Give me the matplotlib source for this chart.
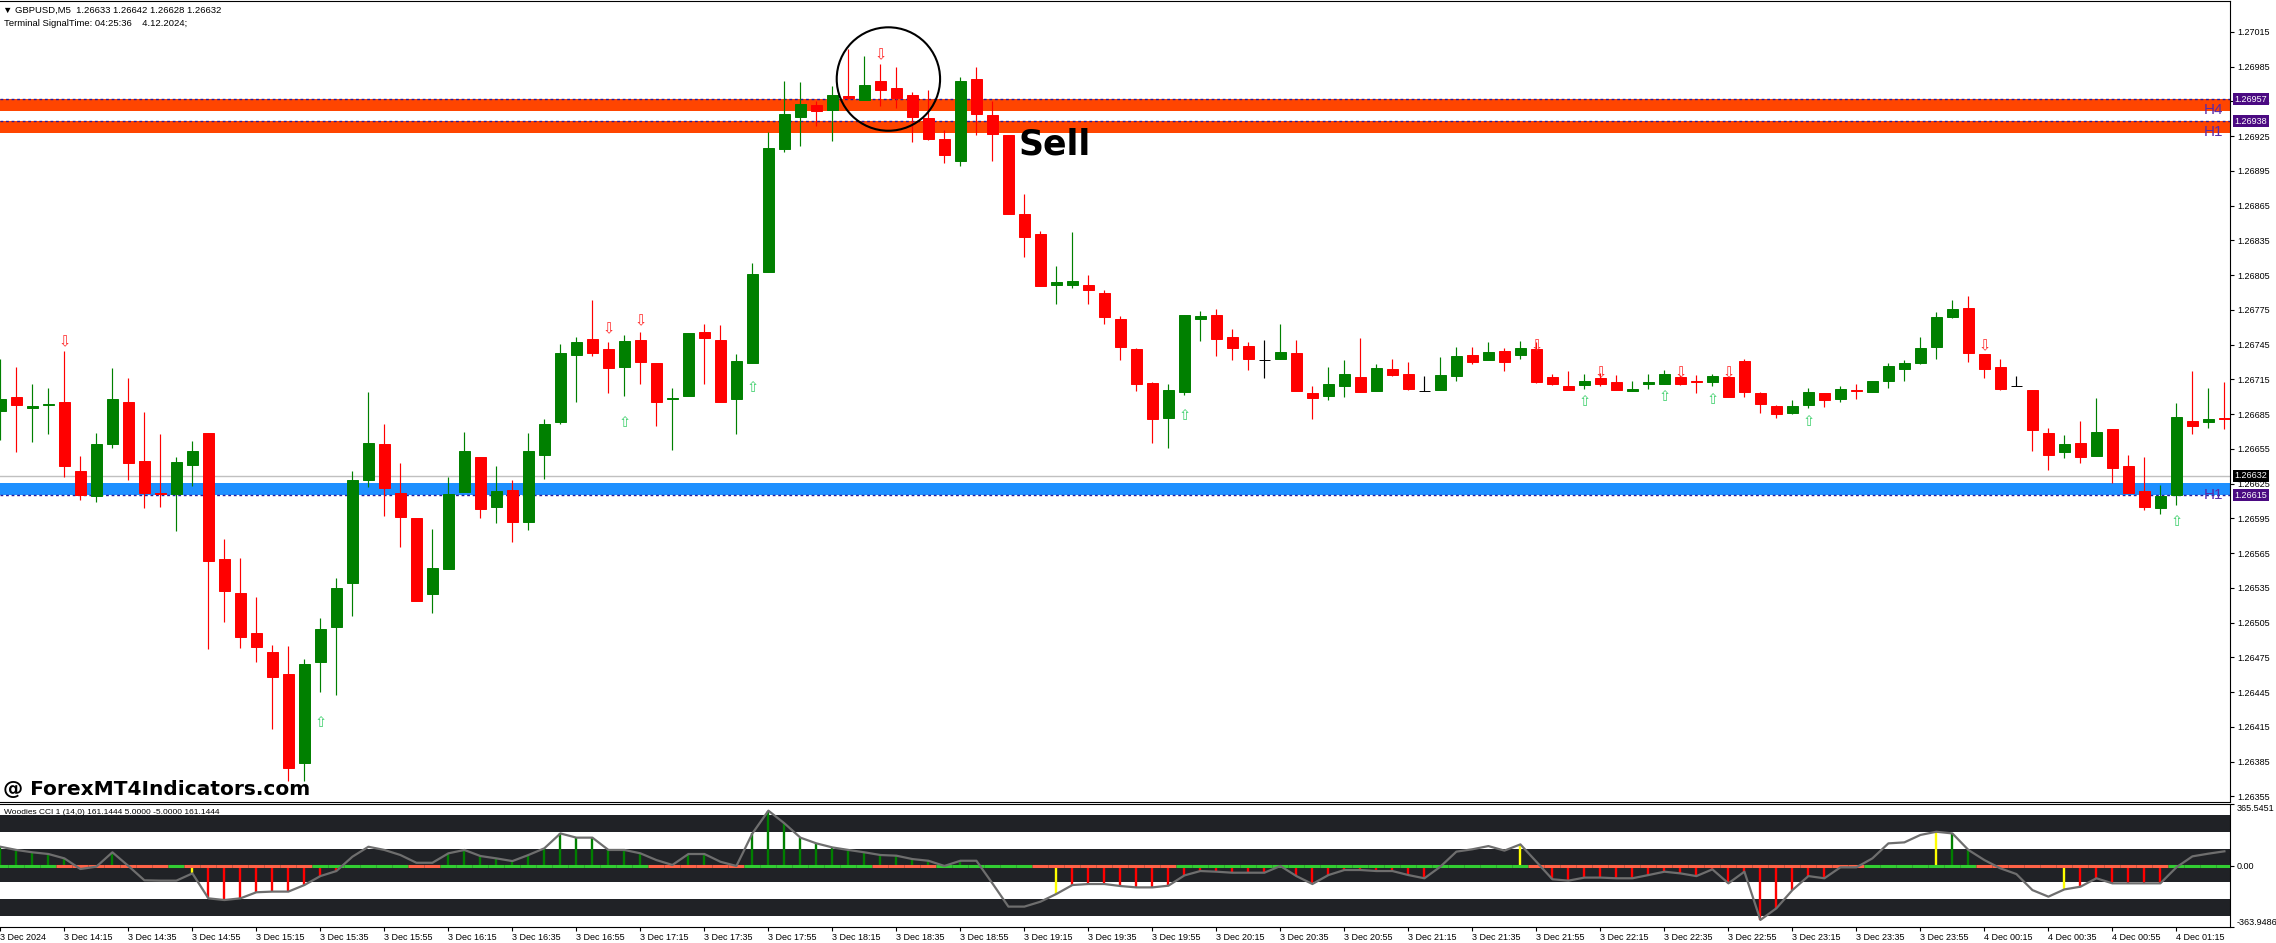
import matplotlib
matplotlib.use("Agg")
import matplotlib.pyplot as plt
from matplotlib.patches import Ellipse
import numpy as np

plt.rcParams['font.family'] = ['Liberation Sans', 'DejaVu Sans']

# GBPUSD M5 candles, 3 Dec 13:55 -> 4 Dec 01:30
opens = [1.26688, 1.26700, 1.26690, 1.26693, 1.26696, 1.26636, 1.26614, 1.26659, 1.26696, 1.26645,
         1.26617, 1.26616, 1.26641, 1.26669, 1.26560, 1.26531, 1.26496, 1.26480, 1.26461, 1.26384,
         1.26471, 1.26501, 1.26539, 1.26628, 1.26659, 1.26617, 1.26595, 1.26530, 1.26551, 1.26618,
         1.26648, 1.26605, 1.26620, 1.26592, 1.26650, 1.26678, 1.26736, 1.26750, 1.26741, 1.26726,
         1.26749, 1.26729, 1.26698, 1.26701, 1.26756, 1.26749, 1.26698, 1.26729, 1.26808, 1.26914,
         1.26942, 1.26952, 1.26948, 1.26960, 1.26956, 1.26973, 1.26967, 1.26961, 1.26941, 1.26923,
         1.26904, 1.26974, 1.26943, 1.26926, 1.26858, 1.26841, 1.26797, 1.26797, 1.26797, 1.26790,
         1.26767, 1.26741, 1.26712, 1.26682, 1.26704, 1.26767, 1.26771, 1.26752, 1.26744, 1.26732,
         1.26733, 1.26738, 1.26703, 1.26701, 1.26709, 1.26717, 1.26705, 1.26724, 1.26720, 1.26705,
         1.26706, 1.26718, 1.26736, 1.26732, 1.26740, 1.26736, 1.26741, 1.26717, 1.26709, 1.26710,
         1.26716, 1.26713, 1.26705, 1.26711, 1.26711, 1.26717, 1.26714, 1.26713, 1.26717, 1.26731,
         1.26703, 1.26692, 1.26686, 1.26693, 1.26703, 1.26698, 1.26706, 1.26704, 1.26714, 1.26724,
         1.26729, 1.26743, 1.26769, 1.26777, 1.26737, 1.26726, 1.26709, 1.26706, 1.26669, 1.26652,
         1.26660, 1.26649, 1.26672, 1.26640, 1.26619, 1.26604, 1.26615, 1.26679, 1.26678, 1.26682]
highs = [1.26733, 1.26726, 1.26711, 1.26708, 1.26740, 1.26649, 1.26669, 1.26725, 1.26716, 1.26687,
         1.26668, 1.26648, 1.26662, 1.26669, 1.26577, 1.26561, 1.26527, 1.26486, 1.26485, 1.26474,
         1.26509, 1.26544, 1.26636, 1.26704, 1.26677, 1.26643, 1.26595, 1.26586, 1.26631, 1.26670,
         1.26648, 1.26640, 1.26628, 1.26669, 1.26681, 1.26746, 1.26752, 1.26784, 1.26747, 1.26753,
         1.26756, 1.26729, 1.26708, 1.26755, 1.26763, 1.26762, 1.26737, 1.26816, 1.26929, 1.26973,
         1.26972, 1.26955, 1.26968, 1.27000, 1.26994, 1.26987, 1.26985, 1.26963, 1.26965, 1.26930,
         1.26976, 1.26985, 1.26955, 1.26926, 1.26875, 1.26843, 1.26813, 1.26842, 1.26805, 1.26792,
         1.26770, 1.26742, 1.26713, 1.26711, 1.26771, 1.26774, 1.26776, 1.26759, 1.26747, 1.26749,
         1.26763, 1.26749, 1.26709, 1.26726, 1.26732, 1.26751, 1.26728, 1.26733, 1.26730, 1.26718,
         1.26734, 1.26743, 1.26743, 1.26747, 1.26742, 1.26748, 1.26747, 1.26720, 1.26722, 1.26720,
         1.26721, 1.26719, 1.26714, 1.26720, 1.26723, 1.26719, 1.26719, 1.26720, 1.26717, 1.26733,
         1.26704, 1.26693, 1.26697, 1.26708, 1.26703, 1.26709, 1.26711, 1.26714, 1.26729, 1.26732,
         1.26752, 1.26773, 1.26784, 1.26787, 1.26737, 1.26733, 1.26718, 1.26706, 1.26673, 1.26667,
         1.26679, 1.26699, 1.26672, 1.26650, 1.26648, 1.26624, 1.26695, 1.26722, 1.26708, 1.26713]
lows = [1.26663, 1.26652, 1.26661, 1.26668, 1.26631, 1.26611, 1.26609, 1.26656, 1.26628, 1.26604,
        1.26605, 1.26584, 1.26623, 1.26482, 1.26506, 1.26483, 1.26471, 1.26413, 1.26368, 1.26368,
        1.26445, 1.26443, 1.26511, 1.26622, 1.26597, 1.26570, 1.26524, 1.26513, 1.26551, 1.26618,
        1.26595, 1.26591, 1.26575, 1.26585, 1.26629, 1.26677, 1.26696, 1.26735, 1.26703, 1.26701,
        1.26711, 1.26675, 1.26654, 1.26701, 1.26711, 1.26696, 1.26668, 1.26729, 1.26808, 1.26911,
        1.26917, 1.26934, 1.26921, 1.26957, 1.26956, 1.26951, 1.26949, 1.26920, 1.26922, 1.26902,
        1.26899, 1.26926, 1.26904, 1.26858, 1.26821, 1.26796, 1.26780, 1.26794, 1.26780, 1.26763,
        1.26732, 1.26705, 1.26660, 1.26656, 1.26702, 1.26748, 1.26735, 1.26732, 1.26723, 1.26716,
        1.26733, 1.26705, 1.26681, 1.26697, 1.26700, 1.26704, 1.26705, 1.26718, 1.26706, 1.26705,
        1.26706, 1.26714, 1.26728, 1.26732, 1.26722, 1.26733, 1.26712, 1.26710, 1.26706, 1.26707,
        1.26709, 1.26706, 1.26705, 1.26707, 1.26711, 1.26710, 1.26703, 1.26709, 1.26700, 1.26700,
        1.26686, 1.26682, 1.26685, 1.26690, 1.26691, 1.26696, 1.26698, 1.26704, 1.26708, 1.26714,
        1.26728, 1.26733, 1.26768, 1.26730, 1.26716, 1.26706, 1.26709, 1.26653, 1.26637, 1.26647,
        1.26643, 1.26649, 1.26626, 1.26617, 1.26602, 1.26599, 1.26607, 1.26668, 1.26673, 1.26672]
closes = [1.26698, 1.26693, 1.26692, 1.26694, 1.26640, 1.26615, 1.26659, 1.26698, 1.26643, 1.26617,
          1.26616, 1.26644, 1.26653, 1.26558, 1.26532, 1.26493, 1.26484, 1.26458, 1.26380, 1.26469,
          1.26500, 1.26535, 1.26628, 1.26660, 1.26621, 1.26596, 1.26524, 1.26552, 1.26616, 1.26653,
          1.26603, 1.26619, 1.26592, 1.26653, 1.26677, 1.26738, 1.26747, 1.26738, 1.26725, 1.26748,
          1.26730, 1.26696, 1.26699, 1.26755, 1.26751, 1.26696, 1.26731, 1.26806, 1.26915, 1.26944,
          1.26953, 1.26947, 1.26961, 1.26958, 1.26969, 1.26965, 1.26958, 1.26942, 1.26923, 1.26909,
          1.26973, 1.26944, 1.26927, 1.26858, 1.26838, 1.26796, 1.26799, 1.26800, 1.26792, 1.26769,
          1.26743, 1.26711, 1.26681, 1.26706, 1.26771, 1.26770, 1.26750, 1.26742, 1.26733, 1.26732,
          1.26739, 1.26705, 1.26699, 1.26711, 1.26720, 1.26704, 1.26725, 1.26719, 1.26707, 1.26705,
          1.26719, 1.26735, 1.26730, 1.26739, 1.26730, 1.26742, 1.26713, 1.26711, 1.26706, 1.26714,
          1.26711, 1.26706, 1.26707, 1.26713, 1.26720, 1.26711, 1.26713, 1.26718, 1.26700, 1.26704,
          1.26694, 1.26685, 1.26692, 1.26704, 1.26697, 1.26707, 1.26705, 1.26714, 1.26727, 1.26729,
          1.26742, 1.26769, 1.26776, 1.26738, 1.26724, 1.26707, 1.26709, 1.26671, 1.26650, 1.26659,
          1.26648, 1.26670, 1.26639, 1.26617, 1.26605, 1.26614, 1.26683, 1.26675, 1.26681, 1.26681]

# signal arrows (bar index, price)
down_idx = [4, 38, 40, 55, 96, 100, 105, 108, 124]
down_y = [1.26748, 1.26759, 1.26766, 1.26995, 1.26744, 1.26721, 1.26721, 1.26721, 1.26744]
up_idx = [20, 39, 47, 74, 99, 104, 107, 113, 136]
up_y = [1.26419, 1.26678, 1.26708, 1.26684, 1.26696, 1.26700, 1.26698, 1.26679, 1.26592]

# supply / demand zones
zone_low = [1.26947, 1.26928, 1.26615]
zone_high = [1.26957, 1.26938, 1.26626]
zone_colors = ['#ff4500', '#ff4500', '#1e90ff']
zone_tf = ['H4', 'H1', 'H1']
zone_line = [1.26957, 1.26938, 1.26615]
last_price = 1.26632

# Woodies CCI
cci = [112, 93, 79, 69, 43, -20, -6, 79, -2, -87,
       -89, -89, -46, -194, -204, -194, -158, -154, -154, -115,
       -62, -32, 53, 112, 93, 63, 17, 17, 73, 93,
       57, 43, 27, 63, 103, 191, 166, 166, 93, 93,
       73, 33, 4, 69, 69, 23, -2, 191, 326, 251,
       166, 132, 108, 93, 79, 63, 59, 39, 29, -2,
       29, 29, -105, -243, -243, -214, -168, -115, -109, -109,
       -121, -129, -129, -119, -58, -32, -36, -42, -42, -42,
       -2, -62, -109, -56, -26, -26, -32, -32, -56, -75,
       -6, 83, 97, 116, 89, 126, 23, -81, -89, -71,
       -71, -75, -75, -56, -36, -46, -62, -22, -105, -36,
       -322, -253, -145, -62, -75, -10, -10, 43, 132, 138,
       182, 201, 191, 93, 33, -16, -50, -145, -184, -141,
       -125, -75, -105, -105, -105, -105, -10, 55, 71, 85]
hist_codes = ("ggggg" "nn" "g" "nnnn" "y" "rrrrrrrrr" "nnnnnn" "ggggggggggggg" "nn" "gg" "nn"
              "gggggggggggg" "n" "g" "nnnnn" "y" "rrrrrrrrrrrrrrrrrrrrrrr" "nnnnn" "y" "n"
              "rrrrrrrrrrrrrrrrrr" "nnnnnn" "y" "gg" "nnnnn" "y" "rrrrrr" "nnnn")
zero_codes = ("LLLL" "TTTTTTT" "L" "TTTTTTTT" "LLLLLL" "TT" "LLLLLLLLLLLLL" "TTTTTT" "LLLLLLLL"
              "TTTT" "LLLLLL" "TTTTTTTTT" "LLLLLLLLLLLLLLLLLLLLLL" "TTTTTTTTTTTTTTTTTTTTT"
              "LLLLLLL" "TTTTTTTTTTTT" "LLLL")

x_ticks = list(range(0, 137, 4))
x_labels = ["3 Dec 2024", "3 Dec 14:15", "3 Dec 14:35", "3 Dec 14:55", "3 Dec 15:15", "3 Dec 15:35",
            "3 Dec 15:55", "3 Dec 16:15", "3 Dec 16:35", "3 Dec 16:55", "3 Dec 17:15", "3 Dec 17:35",
            "3 Dec 17:55", "3 Dec 18:15", "3 Dec 18:35", "3 Dec 18:55", "3 Dec 19:15", "3 Dec 19:35",
            "3 Dec 19:55", "3 Dec 20:15", "3 Dec 20:35", "3 Dec 20:55", "3 Dec 21:15", "3 Dec 21:35",
            "3 Dec 21:55", "3 Dec 22:15", "3 Dec 22:35", "3 Dec 22:55", "3 Dec 23:15", "3 Dec 23:35",
            "3 Dec 23:55", "4 Dec 00:15", "4 Dec 00:35", "4 Dec 00:55", "4 Dec 01:15"]

n = len(opens)
x = np.arange(n)
W, H = 2276, 943

fig = plt.figure(figsize=(W / 100, H / 100), dpi=100)
ax = fig.add_axes([0, 141 / H, 2230 / W, 801 / H])
ax2 = fig.add_axes([0, 16 / H, 2230 / W, 123 / H])

xlim = (-0.025, 139.35)

# zones and levels
for lo, hi, zc, lv, tf in zip(zone_low, zone_high, zone_colors, zone_line, zone_tf):
    ax.axhspan(lo, hi, color=zc, lw=0, zorder=1)
    ax.axhline(lv, color='#2a1a9a', lw=1, ls=(0, (2, 2)), zorder=2)
    ax.text(138.9, lo + 0.000005, tf, color='#5a2aa8', fontsize=11,
            ha='right', va='center', zorder=6)
    ax.text(1.002, lv, f"{lv:.5f}", transform=ax.get_yaxis_transform(), color='white',
            fontsize=6.5, va='center', ha='left', zorder=10, clip_on=False,
            bbox=dict(facecolor='#4b0a82', edgecolor='none', pad=1.2))
ax.axhline(last_price, color='#c0c0c0', lw=1, zorder=1)
ax.text(1.002, last_price, f"{last_price:.5f}", transform=ax.get_yaxis_transform(), color='white',
        fontsize=6.5, va='center', ha='left', zorder=10, clip_on=False,
        bbox=dict(facecolor='black', edgecolor='none', pad=1.2))

# candles
o = np.array(opens)
c = np.array(closes)
cols = ['#008000' if cc > oo else '#ff0000' if cc < oo else '#000000' for oo, cc in zip(o, c)]
ax.vlines(x, lows, highs, colors=cols, lw=0.85, zorder=3)
ax.bar(x, np.abs(c - o), bottom=np.minimum(o, c), width=0.69, color=cols,
       edgecolor=cols, lw=0.7, zorder=4)

for i, yv in zip(down_idx, down_y):
    ax.text(i, yv, '\u21e9', color='#ff2a2a', fontsize=10.5, ha='center', va='center',
            family='DejaVu Sans', zorder=5)
for i, yv in zip(up_idx, up_y):
    ax.text(i, yv, '\u21e7', color='#3ccf6a', fontsize=10.5, ha='center', va='center',
            family='DejaVu Sans', zorder=5)

# annotation
ax.add_patch(Ellipse((55.5, 1.269744), 6.46, 0.000893, fill=False, ec='black', lw=1.5, zorder=7))
ax.text(63.65, 1.26918, 'Sell', fontsize=25, weight='bold', family='DejaVu Sans',
        ha='left', va='center', zorder=7)

ax.set_xlim(xlim)
ax.set_ylim(1.2635025, 1.2704176)
ax.yaxis.tick_right()
price_ticks = np.round(1.26355 + 0.0003 * np.arange(23), 5)
ax.set_yticks(price_ticks)
ax.set_yticklabels([f"{t:.5f}" for t in price_ticks])
ax.tick_params(axis='y', direction='out', length=3, width=0.8, labelsize=6.5, pad=2)
ax.set_xticks([])
ax.spines['left'].set_visible(False)

# indicator panel
for lo, hi in [(200, 300), (-100, 100), (-300, -200)]:
    ax2.axhspan(lo, hi, color='#202226', lw=0, zorder=1)
hist_map = {'g': '#008000', 'r': '#ff0000', 'y': '#ffff00'}
for i in range(n):
    if hist_codes[i] != 'n':
        ax2.vlines(i, 0, cci[i], color=hist_map[hist_codes[i]], lw=1.7, zorder=2)
    ax2.hlines(0, i - 0.5, i + 0.5, color='#32cd32' if zero_codes[i] == 'L' else '#ff6347',
               lw=2.2, zorder=3)
ax2.plot(x, cci, color='#6e6e6e', lw=1.6, zorder=4)
ax2.set_xlim(xlim)
ax2.set_ylim(-363.9486, 365.5451)
ax2.yaxis.tick_right()
ax2.set_yticks([365.5451, 0, -363.9486])
ax2.set_yticklabels(['365.5451', '0.00', '-363.9486'])
ax2.tick_params(axis='y', direction='out', length=3, width=0.8, labelsize=6.5, pad=2)
yl = ax2.get_yticklabels()
yl[0].set_va('top')
yl[2].set_va('bottom')
ax2.set_xticks(x_ticks)
ax2.set_xticklabels(x_labels)
ax2.tick_params(axis='x', direction='out', length=3, width=0.8, labelsize=6.5, pad=1)
for lab in ax2.get_xticklabels():
    lab.set_ha('left')
ax2.spines['left'].set_visible(False)
ax2.text(0.002, 1 - 8 / 123, 'Woodies CCI 1 (14,0) 161.1444 5.0000 -5.0000 161.1444',
         transform=ax2.transAxes, fontsize=6, va='center', ha='left', zorder=6)

# header and watermark
fig.text(3 / W, 1 - 10 / H, '\u25bc GBPUSD,M5  1.26633 1.26642 1.26628 1.26632', fontsize=6.8,
         va='center', ha='left')
fig.text(4 / W, 1 - 24 / H, 'Terminal SignalTime: 04:25:36    4.12.2024;', fontsize=6.8,
         va='center', ha='left')
fig.text(3 / W, 1 - 789 / H, '@ ForexMT4Indicators.com', fontsize=14.5, weight='bold',
         family='DejaVu Sans', va='center', ha='left')

fig.savefig('out.png', dpi=100)
